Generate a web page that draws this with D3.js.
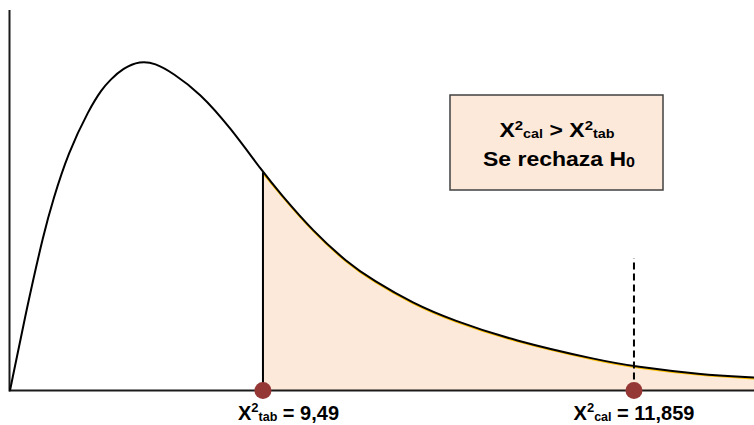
<!DOCTYPE html>
<html><head><meta charset="utf-8">
<script src="https://cdn.jsdelivr.net/npm/d3@7"></script>
<style>html,body{margin:0;padding:0;background:#fff;}svg{display:block;}</style>
</head><body>
<svg id="chart" width="754" height="425"></svg>
<script>
// Curve (schematic chi-square density)
const curveX = [0, 0.69, 1.37, 1.73, 2.34, 3.19, 3.71, 4.03, 4.56, 5.24, 5.85, 6.57, 7.66, 8.87, 10.2, 10.89, 12.22, 13.59, 14.64, 16.25, 17.86, 20.28, 23.79, 25.16, 27.82, 30];
const curveY = [0, 0.042, 0.079, 0.095, 0.1185, 0.1405, 0.1505, 0.155, 0.161, 0.1645, 0.1635, 0.1585, 0.1485, 0.1315, 0.109, 0.0985, 0.0795, 0.064, 0.055, 0.0435, 0.035, 0.025, 0.015, 0.012, 0.008, 0.0065];
// Marker positions on the schematic axis
const markerNames = ["tab", "cal"];
const markerX = [10.2, 25.16];
const markerLabelValues = ["9,49", "11,859"];
const dashedTopY = 0.066;
const boxLine1 = ["X", "2", "cal", " > ", "X", "2", "tab"];
const boxLine2 = ["Se rechaza H", "0"];

const svg = d3.select("#chart");
const x = d3.scaleLinear().domain([0, 30]).range([10, 754]);
const y = d3.scaleLinear().domain([0, 0.19]).range([390.5, 10]);

const pts = curveX.map((v, i) => ({x: v, y: curveY[i]}));
const tailPts = pts.filter(p => p.x >= markerX[0]);
const curve = d3.curveBasis;

// shaded rejection area
const area = d3.area().x(p => x(p.x)).y0(y(0)).y1(p => y(p.y)).curve(curve);
svg.append("path").datum(tailPts).attr("d", area).attr("fill", "#fde9d9");
// yellow edge just below the curve
const line = d3.line().x(p => x(p.x)).y(p => y(p.y)).curve(curve);
svg.append("path").datum(tailPts).attr("d", line).attr("fill", "none")
  .attr("stroke", "#ffc000").attr("stroke-width", 1.5).attr("transform", "translate(0,1.2)");

// axes
svg.append("line").attr("x1", x(0) - 0.5).attr("x2", x(0) - 0.5).attr("y1", 10).attr("y2", y(0) + 1)
  .attr("stroke", "#1a1a1a").attr("stroke-width", 2);
svg.append("line").attr("x1", x(0) - 1).attr("x2", 754).attr("y1", y(0)).attr("y2", y(0))
  .attr("stroke", "#1a1a1a").attr("stroke-width", 2);

// curve
svg.append("path").datum(pts).attr("d", line).attr("fill", "none")
  .attr("stroke", "#000").attr("stroke-width", 2);

// vertical line at tabulated value
svg.append("line").attr("x1", x(markerX[0])).attr("x2", x(markerX[0]))
  .attr("y1", y(0)).attr("y2", y(curveY[curveX.indexOf(markerX[0])]))
  .attr("stroke", "#000").attr("stroke-width", 2);

// dashed line at calculated value
svg.append("line").attr("x1", x(markerX[1])).attr("x2", x(markerX[1]))
  .attr("y1", y(0)).attr("y2", y(dashedTopY))
  .attr("stroke", "#000").attr("stroke-width", 2).attr("stroke-dasharray", "7,4");

// markers
svg.selectAll("circle.m").data(markerX).enter().append("circle")
  .attr("cx", d => x(d)).attr("cy", y(0)).attr("r", 8.5).attr("fill", "#953735");

// marker labels
const labelCx = [288.5, 634];
markerNames.forEach((n, i) => {
  const g = svg.append("g").attr("transform", `translate(${labelCx[i]},420)`);
  const t = g.append("text").attr("text-anchor", "middle")
    .attr("font-family", "Liberation Sans, Arial, sans-serif").attr("font-weight", "bold")
    .attr("font-size", 20).attr("fill", "#000");
  t.append("tspan").text("X");
  t.append("tspan").attr("font-size", 13).attr("dy", -8).text("2");
  t.append("tspan").attr("font-size", 12.5).attr("dy", 9).text(n);
  t.append("tspan").attr("dy", -1).text(" = " + markerLabelValues[i]);
});

// text box
svg.append("rect").attr("x", 450).attr("y", 95).attr("width", 213).attr("height", 95)
  .attr("fill", "#fde9d9").attr("stroke", "#404040").attr("stroke-width", 1.5);
const g1 = svg.append("g").attr("transform", "translate(557,137) scale(1.15,1)");
const t1 = g1.append("text").attr("text-anchor", "middle")
  .attr("font-family", "Liberation Sans, Arial, sans-serif").attr("font-weight", "bold")
  .attr("font-size", 20).attr("fill", "#000");
t1.append("tspan").text(boxLine1[0]);
t1.append("tspan").attr("font-size", 13).attr("dy", -7).text(boxLine1[1]);
t1.append("tspan").attr("font-size", 12.5).attr("dy", 8).text(boxLine1[2]);
t1.append("tspan").attr("dy", -1).text(boxLine1[3] + boxLine1[4]);
t1.append("tspan").attr("font-size", 13).attr("dy", -7).text(boxLine1[5]);
t1.append("tspan").attr("font-size", 12.5).attr("dy", 8).text(boxLine1[6]);
const g2 = svg.append("g").attr("transform", "translate(559,166) scale(1.15,1)");
const t2 = g2.append("text").attr("text-anchor", "middle")
  .attr("font-family", "Liberation Sans, Arial, sans-serif").attr("font-weight", "bold")
  .attr("font-size", 20).attr("fill", "#000");
t2.append("tspan").text(boxLine2[0]);
t2.append("tspan").attr("font-size", 14).attr("dy", 1).text(boxLine2[1]);
</script>
</body></html>
